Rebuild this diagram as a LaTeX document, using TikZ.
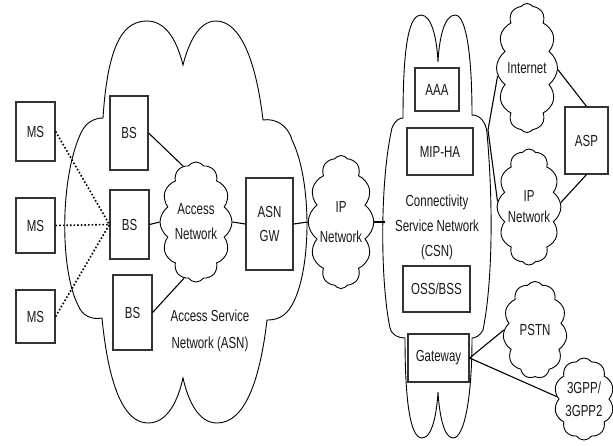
\documentclass[tikz,border=0pt]{standalone}
\usepackage{fontspec}
\setmainfont{Liberation Sans}
\newfontfamily\narrowsans[FakeStretch=0.72]{Liberation Sans}
\usetikzlibrary{shapes.symbols}
\begin{document}
\begin{tikzpicture}[x=1pt,y=-1pt,
  lines/.style={font={\narrowsans\fontsize{16}{#1}\selectfont}},
  lines/.default=18,
  box/.style={draw=black!80, line width=1.2pt, fill=white, inner sep=0pt,
    align=center, text=black!90, lines},
  puff/.style={cloud, cloud puffs=#1, cloud puff arc=110, cloud ignores aspect,
    draw, line width=0.9pt, fill=white, inner sep=0pt, align=center, text=black!90},
  link/.style={line width=1.1pt},
  radio/.style={line width=1.6pt, dash pattern=on 1.6pt off 2pt},
  bigcloud/.style={line width=0.9pt, fill=white}]
\useasboundingbox (0,0) rectangle (613,445);

% Access Service Network outline
\draw[bigcloud] (103,118) .. controls (108,40) and (125,21) .. (147,21)
  .. controls (168,21) and (178,45) .. (183,65)
  .. controls (188,45) and (198,21) .. (216,21)
  .. controls (240,21) and (256,60) .. (263,120)
  .. controls (275,118) and (288,125) .. (292,140)
  .. controls (312,180) and (312,270) .. (292,305)
  .. controls (285,318) and (275,320) .. (267,320)
  .. controls (260,380) and (245,423) .. (217,423)
  .. controls (198,423) and (188,400) .. (183,378)
  .. controls (178,400) and (168,423) .. (148,423)
  .. controls (122,423) and (108,380) .. (102,318)
  .. controls (92,320) and (82,316) .. (78,305)
  .. controls (60,270) and (60,180) .. (80,135)
  .. controls (85,122) and (95,118) .. (103,118) -- cycle;

% Connectivity Service Network outline
\draw[bigcloud] (403,118) .. controls (403,40) and (410,15) .. (421,15)
  .. controls (432,15) and (437,40) .. (438,62)
  .. controls (439,40) and (444,15) .. (455,15)
  .. controls (467,15) and (472,60) .. (472,115)
  .. controls (480,115) and (486,122) .. (487,133)
  .. controls (493,200) and (493,280) .. (483,330)
  .. controls (480,336) and (475,338) .. (472,338)
  .. controls (472,400) and (464,438) .. (453,438)
  .. controls (443,438) and (439,410) .. (438,392)
  .. controls (437,410) and (433,438) .. (422,438)
  .. controls (410,438) and (405,400) .. (405,338)
  .. controls (398,338) and (392,335) .. (390,328)
  .. controls (380,280) and (380,180) .. (392,128)
  .. controls (395,120) and (400,118) .. (403,118) -- cycle;

% mobile stations
\node[box, minimum width=39, minimum height=59] (ms1) at (35.5,131.5) {MS};
\node[box, minimum width=39, minimum height=55] (ms2) at (35.5,225.5) {MS};
\node[box, minimum width=39, minimum height=53] (ms3) at (35.5,316.5) {MS};

% base stations and gateway
\node[box, minimum width=38, minimum height=74] (bs1) at (129,133) {BS};
\node[box, minimum width=39, minimum height=69] (bs2) at (129.5,224.5) {BS};
\node[box, minimum width=39, minimum height=75] (bs3) at (132.5,312.5) {BS};
\node[box, minimum width=47, minimum height=92, lines=24] (gw) at (269.5,224) {ASN\\GW};

% clouds
\node[puff=12, minimum width=72, minimum height=120, lines=25] (acc) at (196,222) {Access\\Network};
\node[puff=12, minimum width=62, minimum height=133, lines=30] (ipn) at (341,222) {IP\\Network};
\node[puff=12, minimum width=61, minimum height=129, lines] (inet) at (527,68) {Internet};
\node[puff=12, minimum width=58, minimum height=116, lines=21] (ipn2) at (529,207) {IP\\Network};
\node[puff=11, minimum width=64, minimum height=97, lines] (pstn) at (535,330) {PSTN};
\node[puff=10, minimum width=60, minimum height=82, lines=23] (tgpp) at (584,399) {3GPP/\\3GPP2};

% CSN servers
\node[box, minimum width=44, minimum height=43] (aaa) at (437,89.5) {AAA};
\node[box, minimum width=66, minimum height=47] (mip) at (440,151.5) {MIP-HA};
\node[box, minimum width=67, minimum height=46] (oss) at (436.5,289) {OSS/BSS};
\node[box, minimum width=61, minimum height=48] (gtw) at (438.5,358) {Gateway};
\node[box, minimum width=43, minimum height=67] (asp) at (586.5,140.5) {ASP};

% network labels
\node[lines=27, align=center, text=black!90] (asnlbl) at (210,331) {Access Service\\Network (ASN)};
\node[lines=25, align=center, text=black!90] (csnlbl) at (437,227) {Connectivity\\Service Network\\(CSN)};

% radio links
\draw[radio] (ms1.east) -- (bs2.west);
\draw[radio] (ms2.east) -- (bs2.west);
\draw[radio] (ms3.east) -- (bs2.west);

% wired links
\draw[link] (bs1.east) -- (acc.103);
\draw[link] (bs2.east) -- (acc.west);
\draw[link] (bs3.east) -- (acc.258);
\draw[link] (acc.east) -- (gw.west);
\draw[link] (gw.east) -- (ipn.west);
\coordinate (csnL) at (385,222);
\draw[link] (ipn.east) -- (csnL);
\coordinate (csnR) at (488,130);
\draw[link] (csnR) -- (inet.195);
\draw[link] (csnR) -- (ipn2.170);
\draw[link] (inet.357) -- (asp.north);
\draw[link] (ipn2.8) -- (asp.south);
\draw[link] (gtw.east) -- (pstn.west);
\draw[link] (gtw.east) -- (tgpp.175);
\end{tikzpicture}
\end{document}
